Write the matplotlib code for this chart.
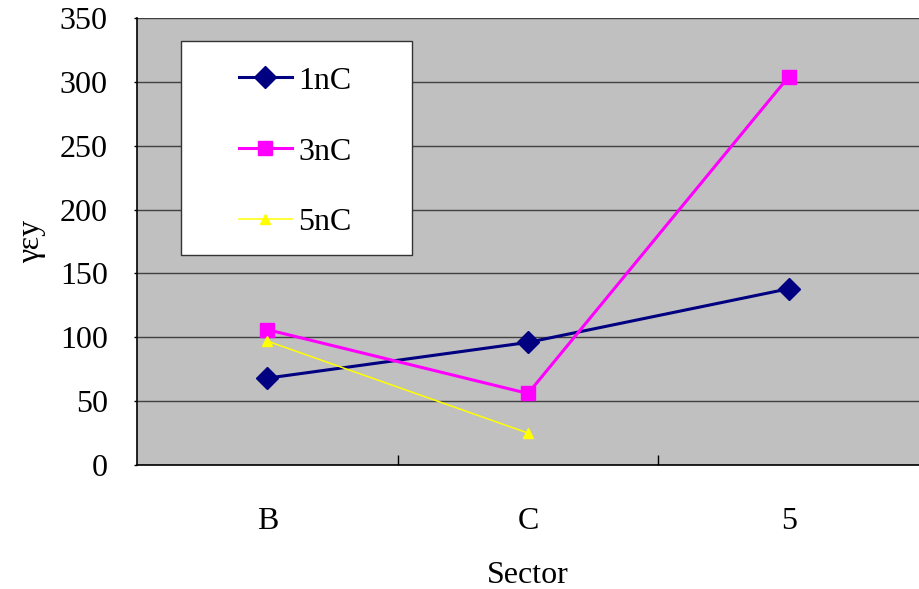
import matplotlib
matplotlib.use("Agg")
import matplotlib.pyplot as plt
from matplotlib.patches import Rectangle
import numpy as np

# ---- data -----------------------------------------------------------------
SECTORS = ["B", "C", "5"]
Y_1NC = [68, 96, 138]
Y_3NC = [106, 56, 304]
Y_5NC = [97, 25]
Y_TICKS = [0, 50, 100, 150, 200, 250, 300, 350]

FS = 23
plt.rcParams["font.family"] = ["Liberation Serif", "DejaVu Serif"]

fig = plt.figure(figsize=(9.19, 5.89), dpi=100)
ax = fig.add_axes([137 / 919, 124 / 589, 782 / 919, 447 / 589])
ax.set_facecolor("#C0C0C0")

x = np.arange(len(SECTORS))
ax.plot(x, Y_1NC, color="#000080", lw=2.2, marker="D", ms=11,
        label="1nC", zorder=3)
ax.plot(x, Y_3NC, color="#FF00FF", lw=2.2, marker="s", ms=10.5,
        label="3nC", zorder=3)
ax.plot(x[:len(Y_5NC)], Y_5NC, color="#FFFF00", lw=1.1, marker="^", ms=7.5,
        label="5nC", zorder=3)

ax.set_xlim(-0.5, len(SECTORS) - 0.5)
ax.set_ylim(0, 350)
ax.set_yticks(Y_TICKS)
ax.yaxis.grid(True, color="#404040", lw=1.0)
ax.set_axisbelow(True)

ax.set_xticks(x, SECTORS)
ax.set_xticks(x[:-1] + 0.5, minor=True)
ax.tick_params(axis="x", which="major", length=0, pad=30, labelsize=FS)
ax.tick_params(axis="x", which="minor", direction="in", length=7, width=1)
ax.tick_params(axis="y", direction="out", length=2, width=1, pad=19,
               labelsize=FS)

for s in ("top", "right"):
    ax.spines[s].set_visible(False)
for s in ("left", "bottom"):
    ax.spines[s].set_linewidth(1.2)

ax.set_xlabel("Sector", fontsize=FS, labelpad=18)
ax.set_ylabel("γεy", fontsize=FS, labelpad=10)

# legend box
ax.add_patch(Rectangle((44 / 782, (465 - 255) / 447), 231 / 782, 214 / 447,
                       transform=ax.transAxes, facecolor="white",
                       edgecolor="#333333", lw=1.0, zorder=4))
leg = ax.legend(loc="upper left", bbox_to_anchor=(0.130, 0.892),
                frameon=False, fontsize=FS, labelspacing=1.3,
                handlelength=1.66, handletextpad=0.2, borderpad=0,
                borderaxespad=0)
leg.set_zorder(5)

fig.savefig("out.png", dpi=100)
